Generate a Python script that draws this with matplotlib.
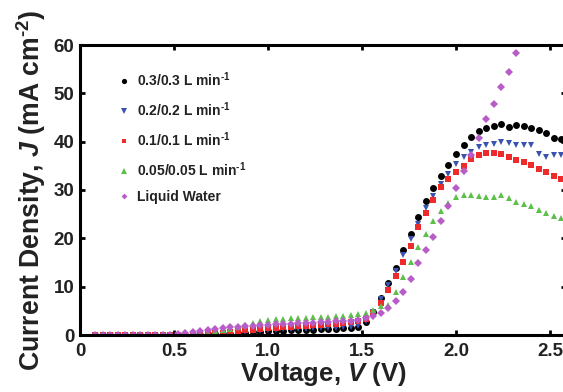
import matplotlib
matplotlib.use("Agg")
import matplotlib.pyplot as plt

plt.rcParams['font.family'] = ['Liberation Sans', 'DejaVu Sans']
plt.rcParams['font.weight'] = 'bold'
plt.rcParams['mathtext.fontset'] = 'custom'
plt.rcParams['mathtext.rm'] = 'Liberation Sans:bold'
plt.rcParams['mathtext.bf'] = 'Liberation Sans:bold'
plt.rcParams['mathtext.it'] = 'Liberation Sans:bold:italic'

voltage = [0.08, 0.12, 0.16, 0.20, 0.24, 0.28, 0.32, 0.36, 0.40, 0.44, 0.48, 0.52,
           0.56, 0.60, 0.64, 0.68, 0.72, 0.76, 0.80, 0.84, 0.88, 0.92, 0.96, 1.00,
           1.04, 1.08, 1.12, 1.16, 1.20, 1.24, 1.28, 1.32, 1.36, 1.40, 1.44, 1.48,
           1.52, 1.56, 1.60, 1.64, 1.68, 1.72, 1.76, 1.80, 1.84, 1.88, 1.92, 1.96,
           2.00, 2.04, 2.08, 2.12, 2.16, 2.20, 2.24, 2.28, 2.32, 2.36, 2.40, 2.44,
           2.48, 2.52, 2.56]

j_03 = [0, 0, 0, 0, 0, 0, 0, 0, 0, 0, 0, 0, 0.05, 0.1,
        0.1, 0.15, 0.2, 0.25, 0.3, 0.4, 0.5, 0.6, 0.7, 0.8,
        0.85, 0.9, 0.95, 1.0, 1.05, 1.1, 1.15, 1.2, 1.3, 1.35, 1.45, 1.6,
        2.6, 4.8, 7.7, 10.8, 13.9, 17.5, 21.0, 24.5, 27.8, 30.5, 33.0, 35.2,
        37.5, 39.4, 41.0, 42.2, 42.9, 43.3, 43.6, 43.0, 43.4, 43.3, 42.8, 42.5,
        41.7, 40.8, 40.6]

j_02 = [0, 0, 0, 0, 0, 0, 0, 0, 0, 0, 0, 0, 0, 0,
        0.1, 0.2, 0.3, 0.4, 0.5, 0.6, 0.7, 0.8, 0.9, 1.0,
        1.1, 1.15, 1.2, 1.25, 1.3, 1.35, 1.4, 1.45, 1.5, 1.6, 1.7, 1.9,
        2.9, 4.8, 7.5, 10.3, 13.2, 16.5, 19.8, 23.0, 26.2, 28.8, 31.3, 33.4,
        35.3, 36.8, 37.8, 39.0, 39.4, 39.6, 40.0, 39.8, 39.4, 39.3, 39.4, 37.5,
        36.8, 37.2, 37.2]

j_01 = [0, 0, 0, 0, 0, 0, 0, 0, 0, 0, 0, 0, 0, 0.05,
        0.1, 0.2, 0.35, 0.5, 0.65, 0.8, 0.95, 1.1, 1.25, 1.4,
        1.5, 1.6, 1.7, 1.8, 1.9, 2.0, 2.1, 2.2, 2.3, 2.45, 2.6, 2.8,
        3.3, 4.6, 6.7, 9.3, 12.2, 15.1, 18.5, 22.3, 25.3, 28.0, 30.6, 32.3,
        33.8, 35.0, 36.4, 37.3, 37.6, 37.6, 37.4, 36.9, 36.2, 35.7, 35.2, 34.4,
        33.8, 33.0, 32.2]

j_005 = [0, 0, 0, 0, 0, 0, 0, 0, 0, 0, 0, 0, 0.05, 0.15,
         0.3, 0.5, 0.75, 1.0, 1.3, 1.7, 2.1, 2.5, 2.8, 3.1,
         3.3, 3.4, 3.5, 3.6, 3.6, 3.7, 3.7, 3.8, 3.9, 4.0, 4.1, 4.3,
         4.6, 5.2, 6.0, 6.3, 8.9, 12.1, 15.2, 18.3, 21.0, 23.6, 25.7, 27.4,
         28.5, 29.0, 29.0, 28.8, 28.6, 28.6, 29.0, 28.3, 27.6, 27.1, 26.6, 25.9,
         25.2, 24.6, 24.2]

j_water = [0, 0, 0, 0, 0, 0, 0, 0, 0, 0, 0.1, 0.25,
           0.45, 0.65, 0.85, 1.05, 1.25, 1.45, 1.6, 1.75, 1.85, 1.95, 2.05, 2.15,
           2.2, 2.3, 2.35, 2.4, 2.45, 2.5, 2.6, 2.7, 2.8, 2.9, 3.0, 3.2,
           3.5, 3.9, 4.6, 5.6, 7.0, 9.0, 11.6, 14.8, 17.6, 20.3, 23.5, 26.7,
           30.5, 34.0, 37.3, 40.8, 44.6, 47.8, 51.3, 54.5, 58.3]

labels = ['0.3/0.3 L min$^{\\text{-}1}$', '0.2/0.2 L min$^{\\text{-}1}$',
          '0.1/0.1 L min$^{\\text{-}1}$', '0.05/0.05 L min$^{\\text{-}1}$',
          'Liquid Water']
x_ticks = [0, 0.5, 1.0, 1.5, 2.0, 2.5]
x_tick_labels = ['0', '0.5', '1.0', '1.5', '2.0', '2.5']
y_ticks = [0, 10, 20, 30, 40, 50, 60]

series = [j_03, j_02, j_01, j_005, j_water]
colors = ['#000000', '#3a52b0', '#ee2a2a', '#5cbf48', '#b85cc8']
markers = ['o', 'v', 's', '^', 'D']
sizes = [5.0, 5.0, 4.3, 5.0, 4.0]

W, H = 563, 392
fig = plt.figure(figsize=(W / 100, H / 100), dpi=100)
left, right, bottom, top = 80, 566, 335, 45
ax = fig.add_axes([left / W, 1 - bottom / H, (right - left) / W, (bottom - top) / H])

for ys, c, m, s, lab in zip(series, colors, markers, sizes, labels):
    ax.plot(voltage[:len(ys)], ys, linestyle='none', marker=m, color=c,
            markersize=s, markeredgewidth=0, label=lab, clip_on=True)

ax.set_xlim(0, (right - left) / 188.0)
ax.set_ylim(0, 60)
ax.set_xticks(x_ticks)
ax.set_xticklabels(x_tick_labels)
ax.set_yticks(y_ticks)
for sp in ax.spines.values():
    sp.set_linewidth(2.2)
ax.tick_params(direction='in', length=3.5, width=2, top=True, right=True,
               labelsize=13.5, pad=4, colors='black')
ax.tick_params(axis='x', pad=6)
for t in ax.get_xticklabels() + ax.get_yticklabels():
    t.set_fontweight('bold')
    t.set_color('#222222')

ax.set_xlabel(r'Voltage, $V$ (V)', fontsize=18.5, fontweight='bold', labelpad=0,
              color='#222222')
ax.set_ylabel('Current Density, $J$ (mA cm$^{\\text{-}2}$)', fontsize=19.2,
              fontweight='bold', labelpad=4, color='#222222')

leg = ax.legend(loc='upper left', bbox_to_anchor=(110 / W, 1 - 63 / H),
                bbox_transform=fig.transFigure, frameon=False,
                prop={'weight': 'bold', 'size': 10}, labelspacing=0.82,
                handlelength=1.0, handletextpad=0.45, markerscale=0.75,
                borderpad=0)
for t in leg.get_texts():
    t.set_color('#222222')

fig.savefig('out.png', dpi=100)
